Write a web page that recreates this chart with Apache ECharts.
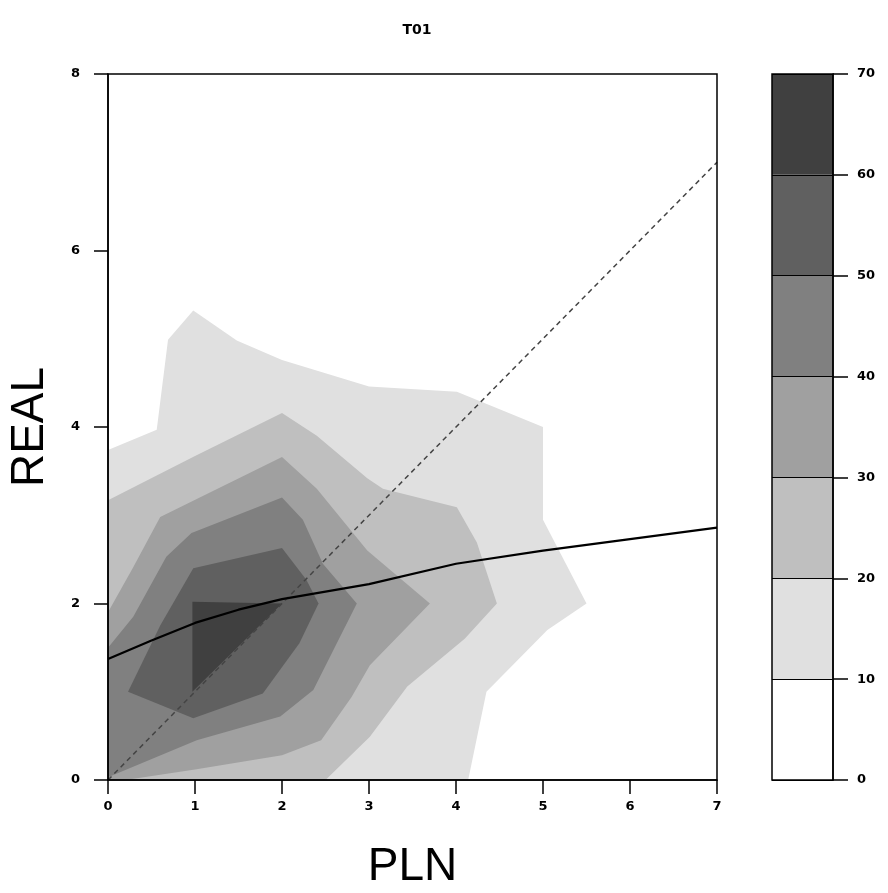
<!DOCTYPE html>
<html>
<head>
<meta charset="utf-8">
<style>html,body{margin:0;padding:0;background:#fff;}#c{width:888px;height:893px;}</style>
<script src="https://cdn.jsdelivr.net/npm/echarts@6/dist/echarts.min.js"></script>
</head>
<body>
<div id="c"></div>
<script>
// ---- data ----
const titleText = 'T01';
const xName = 'PLN';
const yName = 'REAL';
const xTicks = [0, 1, 2, 3, 4, 5, 6, 7];
const yTicks = [0, 2, 4, 6, 8];
const levels = [0, 10, 20, 30, 40, 50, 60, 70];
const levelColors = ['#ffffff', '#e0e0e0', '#bfbfbf', '#a0a0a0', '#808080', '#606060', '#404040'];

// filled contour boundaries (PLN, REAL) for each level
const contour10 = [[0,0],[0,3.74],[0.56,3.97],[0.69,4.99],[0.98,5.32],[1.48,4.98],[2.0,4.76],[3.0,4.46],[4.01,4.4],[5.0,4.0],[5.0,2.95],[5.5,2.0],[5.05,1.7],[4.35,1.0],[4.14,0]];
const contour20 = [[0,0],[0,3.17],[1.0,3.67],[2.0,4.16],[2.4,3.9],[2.98,3.42],[3.16,3.3],[4.01,3.09],[4.24,2.69],[4.47,2.0],[4.1,1.6],[3.44,1.06],[3.01,0.49],[2.5,0]];
const contour30 = [[0,0],[0,1.9],[0.29,2.41],[0.6,2.98],[2.0,3.66],[2.4,3.3],[2.98,2.6],[3.7,2.0],[3.01,1.3],[2.8,0.94],[2.45,0.45],[2.0,0.28],[1.0,0.12],[0.2,0]];
const contour40 = [[0,0.03],[0,1.5],[0.29,1.85],[0.67,2.53],[0.96,2.8],[2.0,3.2],[2.24,2.95],[2.47,2.45],[2.86,2.0],[2.36,1.02],[1.98,0.72],[1.02,0.45]];
const contour50 = [[0.23,1.0],[0.6,1.75],[0.98,2.4],[2.0,2.63],[2.28,2.27],[2.42,2.0],[2.2,1.55],[1.78,0.98],[0.98,0.7]];
const contour60 = [[0.97,1.0],[0.97,2.02],[2.0,2.0]];
const contours = [contour10, contour20, contour30, contour40, contour50, contour60];

const smoothX = [0, 0.5, 1, 1.5, 2, 3, 4, 5, 6, 7];
const smoothY = [1.37, 1.58, 1.78, 1.93, 2.05, 2.22, 2.45, 2.6, 2.73, 2.86];
const identityLine = [[0, 0], [7, 7]];

// ---- chart ----
const chart = echarts.init(document.getElementById('c'), null, {renderer: 'canvas'});
const tickFont = {fontFamily: 'DejaVu Sans', fontWeight: 'bold', fontSize: 13, color: '#000'};

const barSeries = [];
for (let i = 0; i < levelColors.length; i++) {
  barSeries.push({
    type: 'bar', xAxisIndex: 1, yAxisIndex: 1, stack: 'cb',
    barWidth: '100%', data: [levels[i + 1] - levels[i]],
    itemStyle: {color: levelColors[i]}, silent: true, z: 1
  });
}

const option = {
  animation: false,
  backgroundColor: '#fff',
  title: {
    text: titleText, left: 412, top: 18, textAlign: 'center',
    textStyle: {fontFamily: 'DejaVu Sans', fontWeight: 'bold', fontSize: 14, color: '#000'}
  },
  grid: [
    {left: 108, top: 74, width: 609, height: 706, show: true, borderColor: '#000', borderWidth: 1.5, z: 10,
     containLabel: false, outerBoundsMode: 'none'},
    {left: 772, top: 74, width: 61, height: 706, show: true, borderColor: '#000', borderWidth: 1.5, z: 10,
     containLabel: false, outerBoundsMode: 'none'}
  ],
  xAxis: [
    {
      type: 'value', gridIndex: 0, min: 0, max: 7, interval: 1, z: 10,
      name: xName, nameLocation: 'middle', nameGap: 64,
      nameTextStyle: {fontFamily: 'Liberation Sans', fontSize: 46, color: '#000'},
      axisLine: {show: true, lineStyle: {color: '#000', width: 1.5}},
      axisTick: {show: true, inside: false, length: 14, lineStyle: {color: '#000', width: 1.5}},
      axisLabel: Object.assign({margin: 20, formatter: v => String(v)}, tickFont),
      splitLine: {show: false}
    },
    {type: 'category', gridIndex: 1, data: ['c'], show: false}
  ],
  yAxis: [
    {
      type: 'value', gridIndex: 0, min: 0, max: 8, interval: 2, z: 10,
      name: yName, nameLocation: 'middle', nameGap: 55, nameRotate: 90,
      nameTextStyle: {fontFamily: 'Liberation Sans', fontSize: 46, color: '#000'},
      axisLine: {show: true, lineStyle: {color: '#000', width: 1.5}},
      axisTick: {show: true, inside: false, length: 14, lineStyle: {color: '#000', width: 1.5}},
      axisLabel: Object.assign({margin: 28, formatter: v => String(v)}, tickFont),
      splitLine: {show: false}
    },
    {
      type: 'value', gridIndex: 1, min: 0, max: 70, interval: 10, position: 'right', z: 10,
      axisLine: {show: true, lineStyle: {color: '#000', width: 1.5}},
      axisTick: {show: true, inside: false, length: 15, lineStyle: {color: '#000', width: 1.5}},
      axisLabel: Object.assign({margin: 24}, tickFont),
      splitLine: {show: true, lineStyle: {color: '#000', width: 1}}
    }
  ],
  series: [
    {
      type: 'custom', xAxisIndex: 0, yAxisIndex: 0, z: 1, silent: true,
      data: contours.map((c, i) => i),
      renderItem: function (params, api) {
        const idx = api.value(0);
        const pts = contours[idx].map(p => api.coord(p));
        return {type: 'polygon', shape: {points: pts}, style: {fill: levelColors[idx + 1], stroke: null}};
      },
      encode: {x: -1, y: -1}
    },
    {
      type: 'line', xAxisIndex: 0, yAxisIndex: 0, z: 5, symbol: 'none', silent: true,
      data: identityLine,
      lineStyle: {color: '#444', width: 1.5, type: [5, 4]}
    },
    {
      type: 'line', xAxisIndex: 0, yAxisIndex: 0, z: 6, symbol: 'none', silent: true,
      data: smoothX.map((x, i) => [x, smoothY[i]]),
      lineStyle: {color: '#000', width: 2.2}
    }
  ].concat(barSeries)
};
chart.setOption(option);
</script>
</body>
</html>
